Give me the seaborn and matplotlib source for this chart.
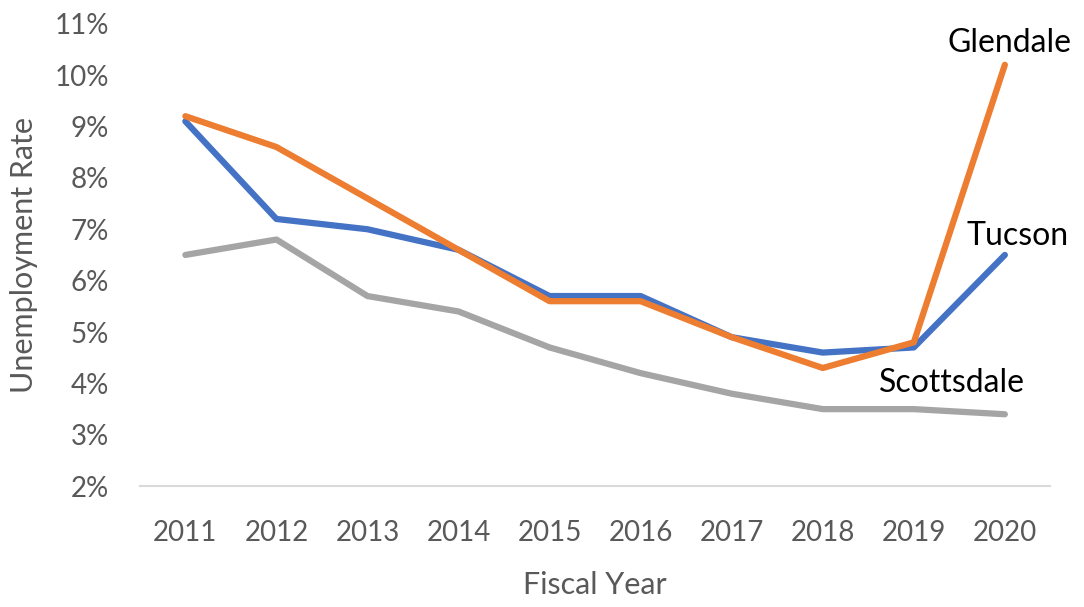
import matplotlib
matplotlib.use("Agg")
import matplotlib.pyplot as plt
import seaborn as sns
import pandas as pd

years = ["2011", "2012", "2013", "2014", "2015", "2016", "2017", "2018", "2019", "2020"]
tucson = [9.1, 7.2, 7.0, 6.6, 5.7, 5.7, 4.9, 4.6, 4.7, 6.5]
glendale = [9.2, 8.6, 7.6, 6.6, 5.6, 5.6, 4.9, 4.3, 4.8, 10.2]
scottsdale = [6.5, 6.8, 5.7, 5.4, 4.7, 4.2, 3.8, 3.5, 3.5, 3.4]
cities = ["Scottsdale", "Tucson", "Glendale"]
y_ticks = [2, 3, 4, 5, 6, 7, 8, 9, 10, 11]

series = {"Tucson": tucson, "Glendale": glendale, "Scottsdale": scottsdale}
df = pd.DataFrame(
    [(y, c, v) for c in cities for y, v in zip(years, series[c])],
    columns=["year", "city", "rate"],
)

sns.set_theme(style="white")
plt.rcParams["font.family"] = ["Lato", "DejaVu Sans"]

fig = plt.figure(figsize=(10.84, 6.07), dpi=100)
ax = fig.add_axes([0.129, 0.199, 0.84, 0.762])

palette = {"Tucson": "#4472C4", "Glendale": "#ED7D31", "Scottsdale": "#A5A5A5"}
sns.lineplot(data=df, x="year", y="rate", hue="city", hue_order=cities,
             palette=palette, linewidth=4.5, ax=ax, legend=False, sort=False)
for line in ax.lines:
    line.set_solid_capstyle("round")
    line.set_solid_joinstyle("round")

ax.set_xlim(-0.5, len(years) - 0.5)
ax.set_ylim(2, 11)
ax.set_yticks(y_ticks)
ax.set_yticklabels([f"{t}%" for t in y_ticks])
ax.tick_params(axis="both", length=0, labelsize=20, labelcolor="#595959")
ax.tick_params(axis="x", pad=24)
ax.tick_params(axis="y", pad=22)

for side in ["top", "right", "left"]:
    ax.spines[side].set_visible(False)
ax.spines["bottom"].set_color("#D9D9D9")
ax.spines["bottom"].set_linewidth(1.5)

ax.set_xlabel("Fiscal Year", fontsize=22, color="#595959", labelpad=18)
ax.set_ylabel("Unemployment Rate", fontsize=22, color="#595959", labelpad=12)

last = len(years) - 1
ax.annotate("Glendale", (last, glendale[-1]), xytext=(3, 5), textcoords="offset points",
            ha="center", va="bottom", fontsize=23, color="black")
ax.annotate("Tucson", (last, tucson[-1]), xytext=(9, 3), textcoords="offset points",
            ha="center", va="bottom", fontsize=23, color="black")
ax.annotate("Scottsdale", (last, scottsdale[-1]), xytext=(-38, 12), textcoords="offset points",
            ha="center", va="bottom", fontsize=23, color="black")

fig.savefig("out.png", dpi=100)
